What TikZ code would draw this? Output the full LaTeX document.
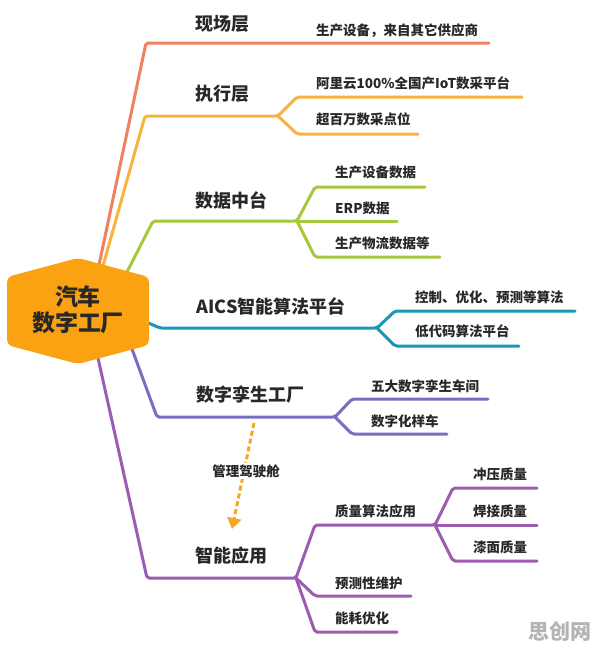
\documentclass[tikz,border=0pt]{standalone}
\usepackage{fontspec}
\setmainfont{Noto Sans CJK SC}
\usetikzlibrary{arrows.meta}
\definecolor{cRed}{RGB}{240,128,96}
\definecolor{cOrg}{RGB}{246,180,62}
\definecolor{cGrn}{RGB}{166,200,60}
\definecolor{cTeal}{RGB}{26,150,182}
\definecolor{cBlu}{RGB}{122,110,190}
\definecolor{cPur}{RGB}{156,92,176}
\definecolor{cHex}{RGB}{250,162,18}
\definecolor{cTxt}{RGB}{40,40,40}
\definecolor{cArr}{RGB}{245,168,32}
\tikzset{
  br/.style={line width=3pt, rounded corners=2pt, line join=round, line cap=round},
  mainlbl/.style={inner sep=0pt, text=cTxt, font=\fontsize{18}{20}\selectfont\bfseries},
  leaf/.style={inner sep=0pt, anchor=west, text=cTxt, font=\fontsize{13.5}{15}\selectfont\bfseries},
}
\begin{document}
\begin{tikzpicture}[x=1pt,y=-1pt]
\useasboundingbox[fill=white] (0,0) rectangle (596,649);
% coordinates
\coordinate (r0) at (99,265); \coordinate (r1) at (146,43); \coordinate (r2) at (489,43);
\coordinate (o0) at (103,266); \coordinate (o1) at (145,116); \coordinate (of) at (278,116);
\coordinate (oa) at (297,97); \coordinate (oa2) at (522,97);
\coordinate (ob) at (297,134); \coordinate (ob2) at (418,134);
\coordinate (g0) at (127,272); \coordinate (g1) at (153,221); \coordinate (gf) at (297,221);
\coordinate (ga) at (315,187); \coordinate (ga2) at (425,187);
\coordinate (gb2) at (397,221);
\coordinate (gc) at (315,257); \coordinate (gc2) at (440,257);
\coordinate (t0) at (146,322); \coordinate (t1) at (160,328); \coordinate (tf) at (377,328);
\coordinate (ta) at (395,311); \coordinate (ta2) at (575,311);
\coordinate (tb) at (395,346); \coordinate (tb2) at (519,346);
\coordinate (b0) at (132,349); \coordinate (b1) at (157,417); \coordinate (bf) at (335,417);
\coordinate (ba) at (352,399); \coordinate (ba2) at (488,399);
\coordinate (bb) at (352,434); \coordinate (bb2) at (447,434);
\coordinate (p0) at (98,358); \coordinate (p1) at (147,578); \coordinate (pf) at (296,578);
\coordinate (pa) at (315,525); \coordinate (qf) at (435,525);
\coordinate (qa) at (453,488); \coordinate (qa2) at (537,488);
\coordinate (qb2) at (537,525);
\coordinate (qc) at (453,561); \coordinate (qc2) at (537,561);
\coordinate (pb) at (315,596); \coordinate (pb2) at (411,596);
\coordinate (pc) at (315,632); \coordinate (pc2) at (397,632);
% branches
\draw[br,cRed] (r0) -- (r1) -- (r2);
\draw[br,cOrg] (o0) -- (o1) -- (of) -- (oa) -- (oa2);
\draw[br,cOrg] (of) -- (ob) -- (ob2);
\draw[br,cGrn] (g0) -- (g1) -- (gf) -- (ga) -- (ga2);
\draw[br,cGrn] (gf) -- (gb2);
\draw[br,cGrn] (gf) -- (gc) -- (gc2);
\draw[br,cTeal] (t0) -- (t1) -- (tf) -- (ta) -- (ta2);
\draw[br,cTeal] (tf) -- (tb) -- (tb2);
\draw[br,cBlu] (b0) -- (b1) -- (bf) -- (ba) -- (ba2);
\draw[br,cBlu] (bf) -- (bb) -- (bb2);
\draw[br,cPur] (p0) -- (p1) -- (pf) -- (pa) -- (qf) -- (qa) -- (qa2);
\draw[br,cPur] (qf) -- (qb2);
\draw[br,cPur] (qf) -- (qc) -- (qc2);
\draw[br,cPur] (pf) -- (pb) -- (pb2);
\draw[br,cPur] (pf) -- (pc) -- (pc2);
% hub
\fill[cHex, rounded corners=5pt] (78,258) -- (149,277) -- (149,345) -- (78,364) -- (7,345) -- (7,277) -- cycle;
\node[inner sep=0pt, text=cTxt, align=center, font=\fontsize{23}{26}\selectfont\bfseries] (hub) at (78,310) {汽车\\数字工厂};
% main labels
\node[mainlbl] (L1) at (222,24) {现场层};
\node[mainlbl] (L2) at (222,94) {执行层};
\node[mainlbl] (L3) at (231,200) {数据中台};
\node[mainlbl] (L4) at (271,306) {AICS智能算法平台};
\node[mainlbl] (L5) at (250,395) {数字孪生工厂};
\node[mainlbl] (L6) at (231,556) {智能应用};
% leaves
\node[leaf] (a1) at (316,31) {生产设备，来自其它供应商};
\node[leaf] (b1n) at (316,83) {阿里云100\%全国产IoT数采平台};
\node[leaf] (b2n) at (316,119) {超百万数采点位};
\node[leaf] (c1) at (335,172) {生产设备数据};
\node[leaf] (c2) at (335,208) {ERP数据};
\node[leaf] (c3) at (335,243) {生产物流数据等};
\node[leaf] (d1) at (415,297) {控制、优化、预测等算法};
\node[leaf] (d2) at (415,331) {低代码算法平台};
\node[leaf] (e1) at (371,386) {五大数字孪生车间};
\node[leaf] (e2) at (371,421) {数字化样车};
\node[leaf] (f1) at (335,511) {质量算法应用};
\node[leaf] (g1n) at (473,474) {冲压质量};
\node[leaf] (g2n) at (473,511) {焊接质量};
\node[leaf] (g3n) at (473,547) {漆面质量};
\node[leaf] (f2) at (335,583) {预测性维护};
\node[leaf] (f3) at (335,618) {能耗优化};
% dashed arrow
\coordinate (as) at (254,423);
\coordinate (ae) at (232,529);
\draw[cArr, line width=3pt, dash pattern=on 5pt off 3pt, -{Triangle[width=14pt,length=11pt]}] (as) -- (ae);
\node[inner sep=1pt, fill=white, text=cTxt, font=\fontsize{13.5}{15}\selectfont\bfseries] (cock) at (246,471) {管理驾驶舱};
% watermark
\node[inner sep=0pt, text={rgb,255:red,180;green,180;blue,180}, font=\fontsize{21}{23}\selectfont\bfseries] (wm) at (560,631) {思创网};
\end{tikzpicture}
\end{document}
